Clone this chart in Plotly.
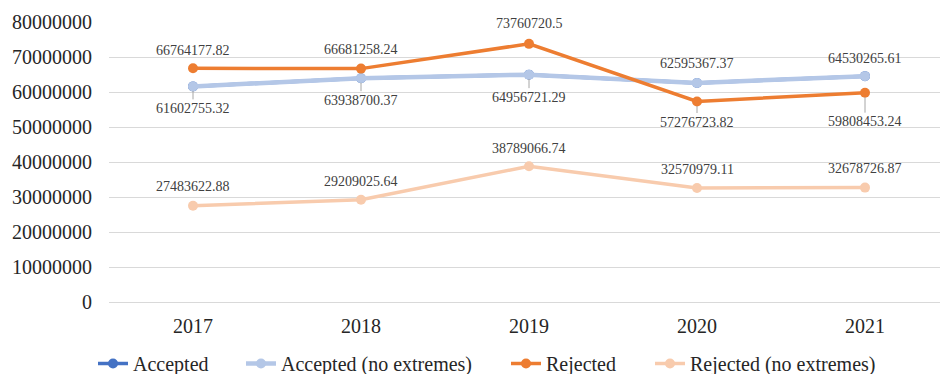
import plotly.graph_objects as go

# ---- data ----
years = ["2017", "2018", "2019", "2020", "2021"]
accepted = [61602755.32, 63938700.37, 64956721.29, 62595367.37, 64530265.61]
accepted_no_extremes = [61602755.32, 63938700.37, 64956721.29, 62595367.37, 64530265.61]
rejected = [66764177.82, 66681258.24, 73760720.5, 57276723.82, 59808453.24]
rejected_no_extremes = [27483622.88, 29209025.64, 38789066.74, 32570979.11, 32678726.87]
y_tick_values = [0, 10000000, 20000000, 30000000, 40000000, 50000000, 60000000, 70000000, 80000000]

FONT = "Liberation Serif"
TEXT = "#262626"
LABEL = "#404040"
GRID = "#d9d9d9"
W, H = 940, 374


def fmt(v):
    return f"{v:.2f}".rstrip("0").rstrip(".")


fig = go.Figure()

series = [
    ("Accepted", accepted, "#4472c4", 3.5, "legend"),
    ("Accepted (no extremes)", accepted_no_extremes, "#b4c7e7", 4.5, "legend2"),
    ("Rejected", rejected, "#ed7d31", 3.5, "legend3"),
    ("Rejected (no extremes)", rejected_no_extremes, "#f8cbad", 3.5, "legend4"),
]
for name, vals, color, lw, lg in series:
    fig.add_trace(go.Scatter(
        x=years, y=vals, name=name, mode="lines+markers",
        line=dict(color=color, width=lw),
        marker=dict(color=color, size=10),
        legend=lg, showlegend=True,
    ))

# value labels: (series, pixel offset of text from point, draw leader line)
label_layout = [
    (accepted_no_extremes, [22, 22, 22.5, -19.5, -18], [True, True, True, False, False]),
    (rejected, [-18, -19, -20, 20.5, 29], [False, False, False, True, True]),
    (rejected_no_extremes, [-19, -18.5, -18, -19, -19], [False] * 5),
]
for vals, offsets, leaders in label_layout:
    for i, (v, off, lead) in enumerate(zip(vals, offsets, leaders)):
        fig.add_annotation(
            x=i, y=v, xref="x", yref="y", text=fmt(v),
            showarrow=True, ax=0, ay=off, axref="pixel", ayref="pixel",
            arrowhead=0, arrowwidth=1, standoff=4.5,
            arrowcolor="#a6a6a6" if lead else "rgba(255,255,255,0)",
            font=dict(family=FONT, size=14, color=LABEL),
        )

left, top, plot_bottom = 109, 22, 302
plot_w = W - left
cat_px = 168

legend_starts = [93, 241, 506, 650]
legend_names = ["legend", "legend2", "legend3", "legend4"]
legend_cfg = {}
for nm, lx in zip(legend_names, legend_starts):
    legend_cfg[nm] = dict(
        xref="container", yref="container",
        x=lx / W, y=1 - 363.5 / H, xanchor="left", yanchor="middle",
        orientation="h", bgcolor="rgba(0,0,0,0)", borderwidth=0,
        font=dict(family=FONT, size=20, color=TEXT),
    )

fig.update_layout(
    template="none",
    width=W, height=H,
    showlegend=True,
    margin=dict(l=left, r=0, t=top, b=H - plot_bottom, autoexpand=False),
    paper_bgcolor="white", plot_bgcolor="white",
    font=dict(family=FONT, color=TEXT),
    **legend_cfg,
)
fig.update_xaxes(
    type="category", range=[-0.5, -0.5 + plot_w / cat_px],
    showgrid=False, showline=False, zeroline=False, ticks="",
    tickfont=dict(family=FONT, size=20, color=TEXT),
    ticklabelstandoff=10,
)
fig.update_yaxes(
    range=[0, 80000000], tickvals=y_tick_values,
    ticktext=[str(v) for v in y_tick_values],
    showgrid=True, gridcolor=GRID, gridwidth=1.3,
    zeroline=True, zerolinecolor=GRID, zerolinewidth=1.3,
    showline=False, ticks="",
    tickfont=dict(family=FONT, size=20, color=TEXT),
    ticklabelstandoff=16,
)

fig.write_html("out.html")
